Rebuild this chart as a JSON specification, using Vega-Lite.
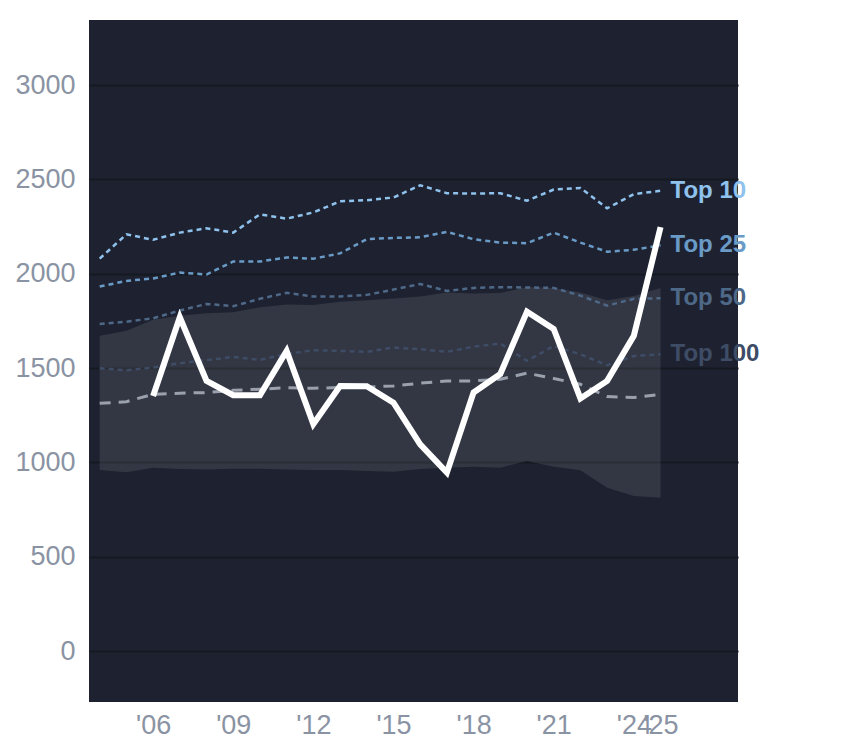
{
  "$schema": "https://vega.github.io/schema/vega-lite/v6.json",
  "autosize": {"type": "none"},
  "width": 649,
  "height": 682,
  "padding": {"left": 89, "top": 20, "right": 106, "bottom": 46},
  "background": "#ffffff",
  "config": {
    "view": {"stroke": null, "fill": "#1e2230"},
    "font": "Liberation Sans",
    "axis": {"grid": true, "gridColor": "#151921", "gridWidth": 2, "domain": false, "ticks": false, "labelColor": "#8a93a3", "labelFont": "Liberation Sans", "labelFontSize": 27, "title": null}
  },
  "datasets": {
    "band": [
      {"year": 2004, "lo": 960, "hi": 1671},
      {"year": 2005, "lo": 948, "hi": 1698},
      {"year": 2006, "lo": 972, "hi": 1756},
      {"year": 2007, "lo": 965, "hi": 1778},
      {"year": 2008, "lo": 963, "hi": 1790},
      {"year": 2009, "lo": 966, "hi": 1796},
      {"year": 2010, "lo": 966, "hi": 1822},
      {"year": 2011, "lo": 962, "hi": 1837},
      {"year": 2012, "lo": 960, "hi": 1834},
      {"year": 2013, "lo": 960, "hi": 1852},
      {"year": 2014, "lo": 955, "hi": 1860},
      {"year": 2015, "lo": 950, "hi": 1869},
      {"year": 2016, "lo": 965, "hi": 1880},
      {"year": 2017, "lo": 972, "hi": 1901},
      {"year": 2018, "lo": 977, "hi": 1895},
      {"year": 2019, "lo": 972, "hi": 1898},
      {"year": 2020, "lo": 1007, "hi": 1930},
      {"year": 2021, "lo": 977, "hi": 1925},
      {"year": 2022, "lo": 958, "hi": 1900},
      {"year": 2023, "lo": 866, "hi": 1860},
      {"year": 2024, "lo": 822, "hi": 1882},
      {"year": 2025, "lo": 813, "hi": 1925}
    ],
    "tops": [
      {"year": 2004, "series": "Top 10", "value": 2080},
      {"year": 2005, "series": "Top 10", "value": 2209},
      {"year": 2006, "series": "Top 10", "value": 2180},
      {"year": 2007, "series": "Top 10", "value": 2218},
      {"year": 2008, "series": "Top 10", "value": 2241},
      {"year": 2009, "series": "Top 10", "value": 2218},
      {"year": 2010, "series": "Top 10", "value": 2315},
      {"year": 2011, "series": "Top 10", "value": 2292},
      {"year": 2012, "series": "Top 10", "value": 2325},
      {"year": 2013, "series": "Top 10", "value": 2384},
      {"year": 2014, "series": "Top 10", "value": 2390},
      {"year": 2015, "series": "Top 10", "value": 2404},
      {"year": 2016, "series": "Top 10", "value": 2469},
      {"year": 2017, "series": "Top 10", "value": 2427},
      {"year": 2018, "series": "Top 10", "value": 2425},
      {"year": 2019, "series": "Top 10", "value": 2427},
      {"year": 2020, "series": "Top 10", "value": 2387},
      {"year": 2021, "series": "Top 10", "value": 2446},
      {"year": 2022, "series": "Top 10", "value": 2455},
      {"year": 2023, "series": "Top 10", "value": 2347},
      {"year": 2024, "series": "Top 10", "value": 2422},
      {"year": 2025, "series": "Top 10", "value": 2440},
      {"year": 2004, "series": "Top 25", "value": 1932},
      {"year": 2005, "series": "Top 25", "value": 1962},
      {"year": 2006, "series": "Top 25", "value": 1975},
      {"year": 2007, "series": "Top 25", "value": 2006},
      {"year": 2008, "series": "Top 25", "value": 1996},
      {"year": 2009, "series": "Top 25", "value": 2065},
      {"year": 2010, "series": "Top 25", "value": 2065},
      {"year": 2011, "series": "Top 25", "value": 2086},
      {"year": 2012, "series": "Top 25", "value": 2080},
      {"year": 2013, "series": "Top 25", "value": 2108},
      {"year": 2014, "series": "Top 25", "value": 2183},
      {"year": 2015, "series": "Top 25", "value": 2190},
      {"year": 2016, "series": "Top 25", "value": 2193},
      {"year": 2017, "series": "Top 25", "value": 2222},
      {"year": 2018, "series": "Top 25", "value": 2183},
      {"year": 2019, "series": "Top 25", "value": 2165},
      {"year": 2020, "series": "Top 25", "value": 2162},
      {"year": 2021, "series": "Top 25", "value": 2218},
      {"year": 2022, "series": "Top 25", "value": 2165},
      {"year": 2023, "series": "Top 25", "value": 2117},
      {"year": 2024, "series": "Top 25", "value": 2127},
      {"year": 2025, "series": "Top 25", "value": 2151},
      {"year": 2004, "series": "Top 50", "value": 1734},
      {"year": 2005, "series": "Top 50", "value": 1746},
      {"year": 2006, "series": "Top 50", "value": 1764},
      {"year": 2007, "series": "Top 50", "value": 1805},
      {"year": 2008, "series": "Top 50", "value": 1840},
      {"year": 2009, "series": "Top 50", "value": 1828},
      {"year": 2010, "series": "Top 50", "value": 1867},
      {"year": 2011, "series": "Top 50", "value": 1899},
      {"year": 2012, "series": "Top 50", "value": 1879},
      {"year": 2013, "series": "Top 50", "value": 1879},
      {"year": 2014, "series": "Top 50", "value": 1888},
      {"year": 2015, "series": "Top 50", "value": 1916},
      {"year": 2016, "series": "Top 50", "value": 1946},
      {"year": 2017, "series": "Top 50", "value": 1909},
      {"year": 2018, "series": "Top 50", "value": 1925},
      {"year": 2019, "series": "Top 50", "value": 1929},
      {"year": 2020, "series": "Top 50", "value": 1927},
      {"year": 2021, "series": "Top 50", "value": 1925},
      {"year": 2022, "series": "Top 50", "value": 1884},
      {"year": 2023, "series": "Top 50", "value": 1831},
      {"year": 2024, "series": "Top 50", "value": 1867},
      {"year": 2025, "series": "Top 50", "value": 1870},
      {"year": 2004, "series": "Top 100", "value": 1499},
      {"year": 2005, "series": "Top 100", "value": 1488},
      {"year": 2006, "series": "Top 100", "value": 1503},
      {"year": 2007, "series": "Top 100", "value": 1526},
      {"year": 2008, "series": "Top 100", "value": 1542},
      {"year": 2009, "series": "Top 100", "value": 1559},
      {"year": 2010, "series": "Top 100", "value": 1543},
      {"year": 2011, "series": "Top 100", "value": 1575},
      {"year": 2012, "series": "Top 100", "value": 1595},
      {"year": 2013, "series": "Top 100", "value": 1591},
      {"year": 2014, "series": "Top 100", "value": 1586},
      {"year": 2015, "series": "Top 100", "value": 1609},
      {"year": 2016, "series": "Top 100", "value": 1600},
      {"year": 2017, "series": "Top 100", "value": 1586},
      {"year": 2018, "series": "Top 100", "value": 1614},
      {"year": 2019, "series": "Top 100", "value": 1630},
      {"year": 2020, "series": "Top 100", "value": 1538},
      {"year": 2021, "series": "Top 100", "value": 1617},
      {"year": 2022, "series": "Top 100", "value": 1573},
      {"year": 2023, "series": "Top 100", "value": 1515},
      {"year": 2024, "series": "Top 100", "value": 1564},
      {"year": 2025, "series": "Top 100", "value": 1573}
    ],
    "median": [
      {"year": 2004, "value": 1313},
      {"year": 2005, "value": 1322},
      {"year": 2006, "value": 1361},
      {"year": 2007, "value": 1367},
      {"year": 2008, "value": 1370},
      {"year": 2009, "value": 1382},
      {"year": 2010, "value": 1388},
      {"year": 2011, "value": 1396},
      {"year": 2012, "value": 1393},
      {"year": 2013, "value": 1397},
      {"year": 2014, "value": 1400},
      {"year": 2015, "value": 1405},
      {"year": 2016, "value": 1420},
      {"year": 2017, "value": 1432},
      {"year": 2018, "value": 1432},
      {"year": 2019, "value": 1441},
      {"year": 2020, "value": 1473},
      {"year": 2021, "value": 1445},
      {"year": 2022, "value": 1414},
      {"year": 2023, "value": 1349},
      {"year": 2024, "value": 1344},
      {"year": 2025, "value": 1361}
    ],
    "main": [
      {"year": 2006, "value": 1352},
      {"year": 2007, "value": 1769},
      {"year": 2008, "value": 1432},
      {"year": 2009, "value": 1356},
      {"year": 2010, "value": 1356},
      {"year": 2011, "value": 1591},
      {"year": 2012, "value": 1203},
      {"year": 2013, "value": 1405},
      {"year": 2014, "value": 1404},
      {"year": 2015, "value": 1317},
      {"year": 2016, "value": 1096},
      {"year": 2017, "value": 946},
      {"year": 2018, "value": 1371},
      {"year": 2019, "value": 1469},
      {"year": 2020, "value": 1799},
      {"year": 2021, "value": 1707},
      {"year": 2022, "value": 1339},
      {"year": 2023, "value": 1432},
      {"year": 2024, "value": 1671},
      {"year": 2025, "value": 2247}
    ]
  },
  "encoding": {
    "x": {"field": "year", "type": "quantitative", "scale": {"domain": [2003.6, 2027.9], "nice": false, "zero": false},
      "axis": {"values": [2006, 2009, 2012, 2015, 2018, 2021, 2024, 2025], "labelExpr": "\"'\" + slice(toString(datum.value), 2)", "labelOverlap": false, "labelFlush": false, "grid": false, "labelPadding": 10}}
  },
  "layer": [
    {
      "data": {"name": "band"},
      "mark": {"type": "area", "color": "#ffffff", "opacity": 0.095},
      "encoding": {
        "y": {"field": "lo", "type": "quantitative", "scale": {"domain": [-270, 3345], "nice": false, "zero": false},
          "axis": {"values": [0, 500, 1000, 1500, 2000, 2500, 3000], "format": "d", "labelPadding": 14}},
        "y2": {"field": "hi"}
      }
    },
    {
      "data": {"name": "tops"},
      "mark": {"type": "line", "strokeWidth": 2.5, "strokeDash": [5, 4]},
      "encoding": {
        "y": {"field": "value", "type": "quantitative"},
        "color": {"field": "series", "type": "nominal", "legend": null,
          "scale": {"domain": ["Top 10", "Top 25", "Top 50", "Top 100"], "range": ["#8fc2ec", "#6a9bc7", "#4e6888", "#3e4c66"]}},
        "detail": {"field": "series"}
      }
    },
    {
      "data": {"name": "median"},
      "mark": {"type": "line", "strokeWidth": 3, "strokeDash": [11, 8], "color": "#9aa1ad"},
      "encoding": {"y": {"field": "value", "type": "quantitative"}}
    },
    {
      "data": {"name": "main"},
      "mark": {"type": "line", "strokeWidth": 6, "color": "#ffffff", "strokeJoin": "miter"},
      "encoding": {"y": {"field": "value", "type": "quantitative"}}
    },
    {
      "data": {"name": "tops"},
      "transform": [{"filter": "datum.year == 2025"}],
      "mark": {"type": "text", "align": "left", "baseline": "middle", "dx": 10, "fontSize": 24, "fontWeight": "bold", "font": "Liberation Sans"},
      "encoding": {
        "y": {"field": "value", "type": "quantitative"},
        "text": {"field": "series"},
        "color": {"field": "series", "type": "nominal", "legend": null,
          "scale": {"domain": ["Top 10", "Top 25", "Top 50", "Top 100"], "range": ["#a3d3f8", "#6fa1cd", "#4e6788", "#3d4a64"]}}
      }
    }
  ]
}
